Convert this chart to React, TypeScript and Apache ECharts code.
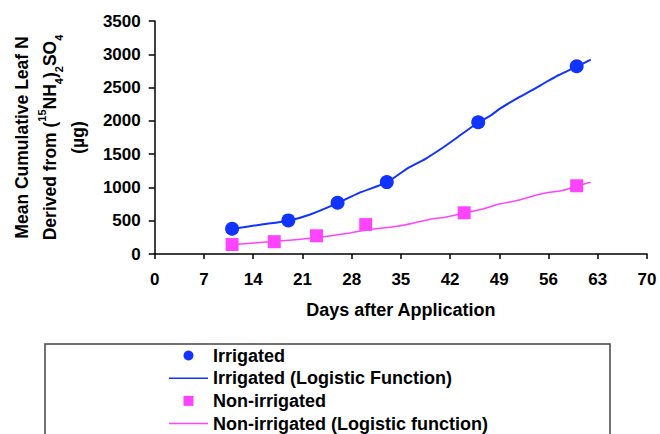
import React, { useEffect, useRef } from "react";
import * as echarts from "echarts";

const xTicks = [0, 7, 14, 21, 28, 35, 42, 49, 56, 63, 70];
const yTicks = [0, 500, 1000, 1500, 2000, 2500, 3000, 3500];

const irrigatedDays = [11, 19, 26, 33, 46, 60];
const irrigatedValues = [380, 505, 770, 1080, 1980, 2820];
const nonIrrigatedDays = [11, 17, 23, 30, 44, 60];
const nonIrrigatedValues = [143, 185, 274, 442, 619, 1025];

const irrigatedFitDays = [11, 15, 19, 22, 26, 29, 33, 36, 38.5, 41, 43, 46, 47.8, 49.1, 51.4, 54, 55.6, 57.4, 60, 62];
const irrigatedFitValues = [375, 440, 500, 590, 765, 915, 1075, 1290, 1430, 1600, 1750, 1975, 2082, 2183, 2330, 2480, 2580, 2685, 2815, 2920];
const nonIrrigatedFitDays = [11, 17, 23, 27.5, 30, 34.5, 36.7, 39.5, 41.3, 44, 46.8, 49, 52, 55, 58, 60, 62];
const nonIrrigatedFitValues = [140, 190, 245, 310, 362, 418, 463, 528, 553, 612, 680, 750, 815, 905, 955, 1020, 1080];

const seriesNames = [
  "Irrigated",
  "Irrigated (Logistic Function)",
  "Non-irrigated",
  "Non-irrigated (Logistic function)",
];

const BLUE = "#1133ff";
const PINK = "#ff44ff";
const FONT = "'Liberation Sans', Arial, sans-serif";
const LINE_ICON = "path://M0,0H78V3H0Z";
const SQUARE_ICON = "path://M0,0H10V10H0Z";

const pairs = (xs: number[], ys: number[]) => xs.map((x, i) => [x, ys[i]]);

export default function App() {
  const ref = useRef<HTMLDivElement>(null);
  useEffect(() => {
    if (!ref.current) return;
    const chart = echarts.init(ref.current, undefined, { renderer: "svg" });
    chart.setOption({
      animation: false,
      backgroundColor: "#fff",
      textStyle: { fontFamily: FONT },
      grid: { left: 141, right: 13, top: 21, bottom: 180 },
      xAxis: {
        type: "value",
        min: xTicks[0],
        max: xTicks[xTicks.length - 1],
        interval: 7,
        name: "Days after Application",
        nameLocation: "middle",
        nameGap: 47,
        nameTextStyle: { fontSize: 18, fontWeight: "bold", color: "#000", fontFamily: FONT },
        axisLine: { show: true, lineStyle: { color: "#000", width: 1.5 } },
        axisTick: { show: true, length: 5, lineStyle: { color: "#000", width: 1.5 } },
        axisLabel: { fontSize: 17, fontWeight: "bold", color: "#000", margin: 17, fontFamily: FONT },
        splitLine: { show: false },
      },
      yAxis: {
        type: "value",
        min: yTicks[0],
        max: yTicks[yTicks.length - 1],
        interval: 500,
        name:
          "Mean Cumulative Leaf N\nDerived from ({sup|15}NH{sub|4}){sub|2}SO{sub|4}\n(µg)",
        nameLocation: "middle",
        nameGap: 52,
        nameTextStyle: {
          fontSize: 17.5,
          fontWeight: "bold",
          color: "#000",
          lineHeight: 28,
          fontFamily: FONT,
          rich: {
            sup: { fontSize: 11, fontWeight: "bold", color: "#000", lineHeight: 18, verticalAlign: "top", fontFamily: FONT },
            sub: { fontSize: 11, fontWeight: "bold", color: "#000", lineHeight: 18, verticalAlign: "bottom", fontFamily: FONT },
          },
        },
        axisLine: { show: true, lineStyle: { color: "#000", width: 1.5 } },
        axisTick: { show: true, length: 6, lineStyle: { color: "#000", width: 1.5 } },
        axisLabel: {
          fontSize: 17,
          fontWeight: "bold",
          color: "#000",
          margin: 14,
          fontFamily: FONT,
          formatter: (v: number) => String(v),
        },
        splitLine: { show: false },
      },
      legend: {
        orient: "vertical",
        left: 169,
        top: 346.5,
        height: 120,
        padding: 0,
        itemWidth: 39,
        itemHeight: 10,
        itemGap: 4.7,
        selectedMode: false,
        textStyle: { fontSize: 18, fontWeight: "bold", color: "#000", fontFamily: FONT },
        data: [
          { name: seriesNames[0], icon: "circle" },
          { name: seriesNames[1], icon: LINE_ICON },
          { name: seriesNames[2], icon: SQUARE_ICON },
          { name: seriesNames[3], icon: LINE_ICON },
        ],
      },
      graphic: [
        {
          type: "rect",
          shape: { x: 45, y: 344, width: 565, height: 120 },
          style: { fill: "none", stroke: "#444", lineWidth: 1.5 },
          silent: true,
        },
      ],
      series: [
        {
          name: seriesNames[0],
          type: "scatter",
          symbol: "circle",
          symbolSize: 14,
          itemStyle: { color: BLUE, opacity: 1 },
          data: pairs(irrigatedDays, irrigatedValues),
          z: 5,
        },
        {
          name: seriesNames[1],
          type: "line",
          symbol: "none",
          smooth: 0.2,
          lineStyle: { color: BLUE, width: 2 },
          itemStyle: { color: BLUE },
          data: pairs(irrigatedFitDays, irrigatedFitValues),
          z: 3,
        },
        {
          name: seriesNames[2],
          type: "scatter",
          symbol: "rect",
          symbolSize: 13,
          itemStyle: { color: PINK, opacity: 1 },
          data: pairs(nonIrrigatedDays, nonIrrigatedValues),
          z: 5,
        },
        {
          name: seriesNames[3],
          type: "line",
          symbol: "none",
          smooth: 0.2,
          lineStyle: { color: PINK, width: 1.5 },
          itemStyle: { color: PINK },
          data: pairs(nonIrrigatedFitDays, nonIrrigatedFitValues),
          z: 3,
        },
      ],
    });
    return () => chart.dispose();
  }, []);
  return (
    <div
      ref={ref}
      style={{ position: "fixed", left: 0, top: 0, width: 660, height: 434 }}
    />
  );
}
